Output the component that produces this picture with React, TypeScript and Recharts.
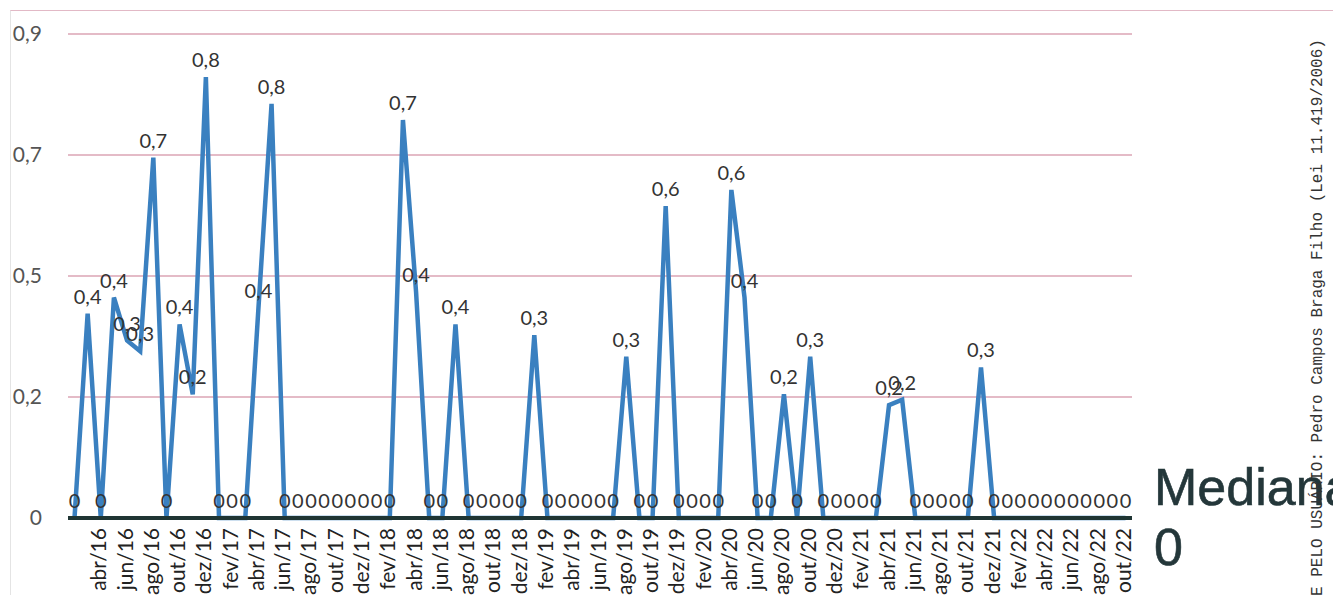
import { CartesianGrid, LabelList, Line, LineChart, XAxis, YAxis } from "recharts";

const months = [
  "fev/16", "mar/16", "abr/16", "mai/16", "jun/16", "jul/16", "ago/16", "set/16", "out/16", "nov/16", "dez/16",
  "jan/17", "fev/17", "mar/17", "abr/17", "mai/17", "jun/17", "jul/17", "ago/17", "set/17", "out/17", "nov/17", "dez/17",
  "jan/18", "fev/18", "mar/18", "abr/18", "mai/18", "jun/18", "jul/18", "ago/18", "set/18", "out/18", "nov/18", "dez/18",
  "jan/19", "fev/19", "mar/19", "abr/19", "mai/19", "jun/19", "jul/19", "ago/19", "set/19", "out/19", "nov/19", "dez/19",
  "jan/20", "fev/20", "mar/20", "abr/20", "mai/20", "jun/20", "jul/20", "ago/20", "set/20", "out/20", "nov/20", "dez/20",
  "jan/21", "fev/21", "mar/21", "abr/21", "mai/21", "jun/21", "jul/21", "ago/21", "set/21", "out/21", "nov/21", "dez/21",
  "jan/22", "fev/22", "mar/22", "abr/22", "mai/22", "jun/22", "jul/22", "ago/22", "set/22", "out/22",
];

const values = [
  0, 0.38, 0, 0.41, 0.33, 0.31, 0.67, 0, 0.36, 0.23, 0.82,
  0, 0, 0, 0.39, 0.77, 0, 0, 0, 0, 0, 0, 0,
  0, 0, 0.74, 0.42, 0, 0, 0.36, 0, 0, 0, 0, 0,
  0.34, 0, 0, 0, 0, 0, 0, 0.3, 0, 0, 0.58, 0,
  0, 0, 0, 0.61, 0.41, 0, 0, 0.23, 0, 0.3, 0, 0,
  0, 0, 0, 0.21, 0.22, 0, 0, 0, 0, 0, 0.28, 0,
  0, 0, 0, 0, 0, 0, 0, 0, 0, 0,
];

const medianValue = 0;
const yTicks = [0, 0.225, 0.45, 0.675, 0.9];

const data = months.map((month, i) => ({ month, value: values[i], median: medianValue }));

const BLUE = "#3a80c0";
const DARK = "#1f3533";
const FONT = "Lato, 'Open Sans', sans-serif";

function formatValue(v: number) {
  if (v === 0) return "0";
  return (Math.round(v * 10) / 10).toFixed(1).replace(".", ",");
}

function MonthTick({ x, y, payload, index }: { x?: number; y?: number; payload?: { value: string }; index?: number }) {
  // first category has no label in the original
  if (index === 0 || x === undefined || y === undefined) return <g />;
  const tx = x - 3;
  return (
    <text
      x={tx}
      y={y}
      transform={`rotate(-90 ${tx} ${y})`}
      textAnchor="end"
      dominantBaseline="central"
      fill="#222"
      fontSize={21}
      fontFamily={FONT}
    >
      {payload?.value}
    </text>
  );
}

export default function App() {
  return (
    <div
      style={{
        position: "fixed",
        top: 0,
        left: 0,
        width: 1333,
        height: 595,
        overflow: "hidden",
        background: "#fff",
      }}
    >
      <div
        style={{
          position: "absolute",
          left: 10,
          top: 10,
          width: 1323,
          height: 600,
          borderTop: "1px solid #e2b9c6",
          borderLeft: "1px solid #e4e4e4",
        }}
      />
      <LineChart width={1333} height={595} data={data} margin={{ top: 34, right: 201, left: 0, bottom: 17 }}>
        <CartesianGrid vertical={false} stroke="#dba4b4" strokeWidth={1.3} />
        <XAxis
          dataKey="month"
          interval={1}
          height={60}
          padding={{ left: 6.5, right: 6.5 }}
          axisLine={{ stroke: DARK, strokeWidth: 4 }}
          tickLine={false}
          tickSize={0}
          tickMargin={10}
          tick={<MonthTick />}
        />
        <YAxis
          width={68}
          domain={[0, 0.9]}
          ticks={yTicks}
          axisLine={false}
          tickLine={false}
          tickMargin={20}
          tickFormatter={formatValue}
          tick={{ fill: "#555", fontSize: 21, fontFamily: FONT }}
        />
        <Line
          type="linear"
          dataKey="value"
          stroke={BLUE}
          strokeWidth={4.5}
          dot={false}
          isAnimationActive={false}
        >
          <LabelList
            dataKey="value"
            position="top"
            offset={10}
            formatter={(v: number) => formatValue(Number(v))}
            style={{ fill: "#333", fontSize: 20, fontFamily: FONT }}
          />
        </Line>
        <Line type="linear" dataKey="median" stroke={DARK} strokeWidth={4} dot={false} isAnimationActive={false} />
      </LineChart>

      <div
        style={{
          position: "absolute",
          left: 1154,
          top: 457,
          fontFamily: "'Liberation Sans', Arial, sans-serif",
          fontSize: 52,
          lineHeight: "60px",
          color: "#24373a",
          whiteSpace: "nowrap",
          WebkitTextStroke: "0.6px #24373a",
        }}
      >
        <div>Mediana</div>
        <div>{medianValue}</div>
      </div>

      <svg width={1333} height={595} style={{ position: "absolute", left: 0, top: 0, pointerEvents: "none" }}>
        <text
          x={1318}
          y={596}
          transform="rotate(-90 1318 596)"
          fontFamily="'Liberation Mono', 'DejaVu Sans Mono', monospace"
          fontSize={16}
          fill="#333"
          dominantBaseline="central"
        >
          E PELO USUÁRIO: Pedro Campos Braga Filho (Lei 11.419/2006)
        </text>
      </svg>
    </div>
  );
}
